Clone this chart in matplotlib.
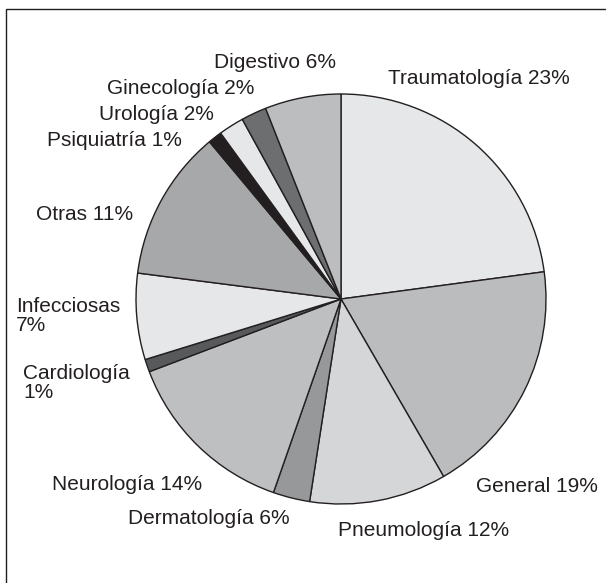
import matplotlib.pyplot as plt
from matplotlib.patches import Rectangle

# slice shares (clockwise from the top)
categories = ['Traumatología', 'General', 'Pneumología', 'Dermatología', 'Neurología',
              'Cardiología', 'Infecciosas', 'Otras', 'Psiquiatría', 'Urología',
              'Ginecología', 'Digestivo']
shares = [22.9, 18.8, 10.8, 2.9, 13.9, 1.0, 6.8, 11.9, 1.1, 2.0, 2.0, 6.0]
labels = ['Traumatología 23%', 'General 19%', 'Pneumología 12%', 'Dermatología 6%',
          'Neurología 14%', 'Cardiología\n1%', 'Infecciosas\n7%', 'Otras 11%',
          'Psiquiatría 1%', 'Urología 2%', 'Ginecología 2%', 'Digestivo 6%']
colors = ['#e6e7e9', '#bbbcbe', '#d5d6d8', '#97989a', '#bebfc1', '#58595b',
          '#e6e7e8', '#a7a8aa', '#231f20', '#e6e7e8', '#6d6e70', '#bcbdbf']
label_pos = [(388, 79), (476, 487), (338, 531), (128, 518), (52, 484), (23, 383),
             (16, 316), (36, 215), (47, 140), (99, 114), (107, 88), (214, 62)]

plt.rcParams['font.family'] = ['Liberation Sans', 'DejaVu Sans']

W, H = 606, 583
fig = plt.figure(figsize=(W / 100, H / 100), dpi=100)
ax = fig.add_axes([0, 0, 1, 1])

# frame (only left and top sides fall inside the image)
ax.add_patch(Rectangle((5.5, -10), W + 20, H - 8.5 + 10, fill=False,
                       edgecolor='#231f20', linewidth=1))

ax.pie(shares, colors=colors, startangle=90, counterclock=False,
       center=(341, H - 299), radius=205, frame=True,
       wedgeprops=dict(edgecolor='#231f20', linewidth=1))
ax.set_xlim(0, W)
ax.set_ylim(0, H)
ax.set_aspect('equal')
ax.axis('off')

for lab, (x, y) in zip(labels, label_pos):
    ax.text(x, H - y, lab, fontsize=15, color='#231f20', ha='left', va='center',
            linespacing=1.05)

fig.savefig('out.png', dpi=100)
